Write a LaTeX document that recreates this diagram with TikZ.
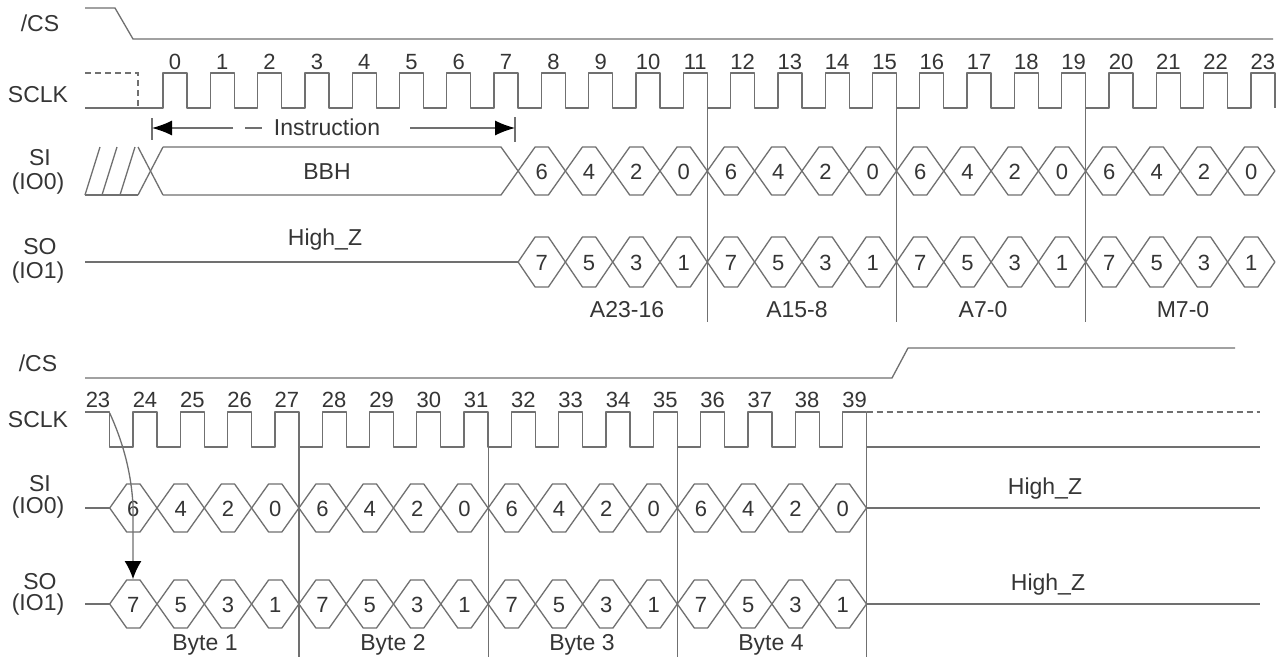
\documentclass[tikz,border=0pt]{standalone}
\usepackage{fontspec}
\setmainfont{Liberation Sans}
\usetikzlibrary{arrows.meta}
\definecolor{ln}{HTML}{707070}
\definecolor{tx}{HTML}{353535}
\tikzset{
 sig/.style={draw=ln, line width=1.3pt, line join=round},
 dsig/.style={draw=ln, line width=1.3pt, dash pattern=on 6pt off 4pt},
 sepline/.style={draw=ln, line width=1.2pt},
 lbl/.style={text=tx, font=\fontsize{23}{25}\selectfont, inner sep=0pt},
 num/.style={text=tx, font=\fontsize{22}{24}\selectfont, inner sep=0pt},
 tip/.style={-{Latex[length=20pt,width=15pt,black]}},
 tipb/.style={-{Latex[length=18pt,width=17pt,black]}},
}
\begin{document}
\begin{tikzpicture}[x=1pt,y=-1pt]
\useasboundingbox (0,0) rectangle (1285,659);
\fill[white] (0,0) rectangle (1285,659);

% ================= TOP =================
\node[lbl] (cs1) at (40,23) {/CS};
\draw[sig] (85,8) -- (115,8) -- (133,39) -- (1273,39);

\node[lbl] (sclk1) at (38,95) {SCLK};
\draw[dsig] (85,73) -- (138,73) -- (138,108);
\draw[sig] (85,108) \foreach \k in {0,...,23} { -- ({163+47.3*\k},108) -- ({163+47.3*\k},73) -- ({187+47.3*\k},73) -- ({187+47.3*\k},108) };
\foreach \k in {0,...,23} { \node[num] (tn\k) at ({175+47.3*\k},62) {\k}; }

% separators
\foreach \k in {11,15,19} { \draw[sepline] ({187+47.3*\k},73) -- ({187+47.3*\k},322); }

% instruction arrow
\coordinate (il) at (152,128);
\coordinate (ir) at (515,128);
\draw[sig] (152,118) -- (152,140);
\draw[sig] (515,117) -- (515,142);
\draw[sig, tip] (233,128) -- (il);
\draw[sig] (245,128) -- (262,128);
\node[lbl] (instr) at (327,127) {Instruction};
\draw[sig, tip] (410,128) -- (ir);

% SI top
\node[lbl] (si1a) at (40,158) {SI};
\node[lbl] (si1b) at (38,184) {(IO0)};
\draw[sig] (85,195) -- (138,195);
\draw[sig] (85,195) -- (100,147);
\draw[sig] (102,195) -- (117,147);
\draw[sig] (120,195) -- (135,147);
\draw[sig] (138,147) -- (163,195);
\draw[sig] (138,195) -- (163,147);
\draw[sig] (163,147) -- (501,147) -- (518.1,171) -- (501,195) -- (163,195);
\node[lbl] (bbh) at (327,172) {BBH};
\foreach \i in {0,...,15} {
  \pgfmathsetmacro\a{518.1+47.3*\i}
  \pgfmathsetmacro\b{\a+47.3}
  \pgfmathtruncatemacro\d{6-2*mod(\i,4)}
  \draw[sig] (\a,171) -- ({\a+17},147) -- ({\b-17},147) -- (\b,171) -- ({\b-17},195) -- ({\a+17},195) -- cycle;
  \node[num] (sit\i) at ({(\a+\b)/2},172) {\d};
}

% SO top
\node[lbl] (so1a) at (40,247) {SO};
\node[lbl] (so1b) at (38,273) {(IO1)};
\draw[sig] (85,262) -- (518.1,262);
\node[lbl] (hz1) at (325,240) {High\_Z};
\foreach \i in {0,...,15} {
  \pgfmathsetmacro\a{518.1+47.3*\i}
  \pgfmathsetmacro\b{\a+47.3}
  \pgfmathtruncatemacro\d{7-2*mod(\i,4)}
  \draw[sig] (\a,262) -- ({\a+17},237) -- ({\b-17},237) -- (\b,262) -- ({\b-17},287) -- ({\a+17},287) -- cycle;
  \node[num] (sot\i) at ({(\a+\b)/2},263) {\d};
}
\node[lbl] (ga) at (627,310) {A23-16};
\node[lbl] (gb) at (797,310) {A15-8};
\node[lbl] (gc) at (983,310) {A7-0};
\node[lbl] (gd) at (1183,310) {M7-0};

% ================= BOTTOM =================
\node[lbl] (cs2) at (38,363) {/CS};
\draw[sig] (85,378) -- (892,378) -- (908,348) -- (1235,348);

\node[lbl] (sclk2) at (38,420) {SCLK};
\draw[sig] (85,412) -- (109.7,412) -- (109.7,447) \foreach \k in {0,...,15} { -- ({133+47.3*\k},447) -- ({133+47.3*\k},412) -- ({157+47.3*\k},412) -- ({157+47.3*\k},447) } -- (1260,447);
\draw[dsig] (866.5,412) -- (1260,412);
\node[num] (bn23) at (98,400) {23};
\foreach \k in {0,...,15} { \pgfmathtruncatemacro\n{24+\k} \node[num] (bn\n) at ({145+47.3*\k},400) {\n}; }

\foreach \k in {3,7,11,15} { \draw[sepline] ({157+47.3*\k},412) -- ({157+47.3*\k},657); }

% SI bottom
\node[lbl] (si2a) at (40,484) {SI};
\node[lbl] (si2b) at (38,508) {(IO0)};
\draw[sig] (85,508) -- (109.7,508);
\foreach \i in {0,...,15} {
  \pgfmathsetmacro\a{109.7+47.3*\i}
  \pgfmathsetmacro\b{\a+47.3}
  \pgfmathtruncatemacro\d{6-2*mod(\i,4)}
  \draw[sig] (\a,508) -- ({\a+17},484) -- ({\b-17},484) -- (\b,508) -- ({\b-17},532) -- ({\a+17},532) -- cycle;
  \node[num] (sib\i) at ({(\a+\b)/2},509) {\d};
}
\draw[sig] (866.5,508) -- (1260,508);
\node[lbl] (hz2) at (1045,489) {High\_Z};

% SO bottom
\node[lbl] (so2a) at (40,582) {SO};
\node[lbl] (so2b) at (38,605) {(IO1)};
\draw[sig] (85,604) -- (109.7,604);
\foreach \i in {0,...,15} {
  \pgfmathsetmacro\a{109.7+47.3*\i}
  \pgfmathsetmacro\b{\a+47.3}
  \pgfmathtruncatemacro\d{7-2*mod(\i,4)}
  \draw[sig] (\a,604) -- ({\a+17},580) -- ({\b-17},580) -- (\b,604) -- ({\b-17},628) -- ({\a+17},628) -- cycle;
  \node[num] (sob\i) at ({(\a+\b)/2},605) {\d};
}
\draw[sig] (866.5,604) -- (1260,604);
\node[lbl] (hz3) at (1048,585) {High\_Z};

\node[lbl] (by1) at (205,645) {Byte 1};
\node[lbl] (by2) at (393,645) {Byte 2};
\node[lbl] (by3) at (582,645) {Byte 3};
\node[lbl] (by4) at (771,645) {Byte 4};

% curved arrow
\coordinate (cstart) at (109.7,413);
\coordinate (cend) at (133,579);
\draw[sig, tipb] (cstart) .. controls (122,440) and (131,470) .. (133,505) -- (cend);
\end{tikzpicture}
\end{document}
